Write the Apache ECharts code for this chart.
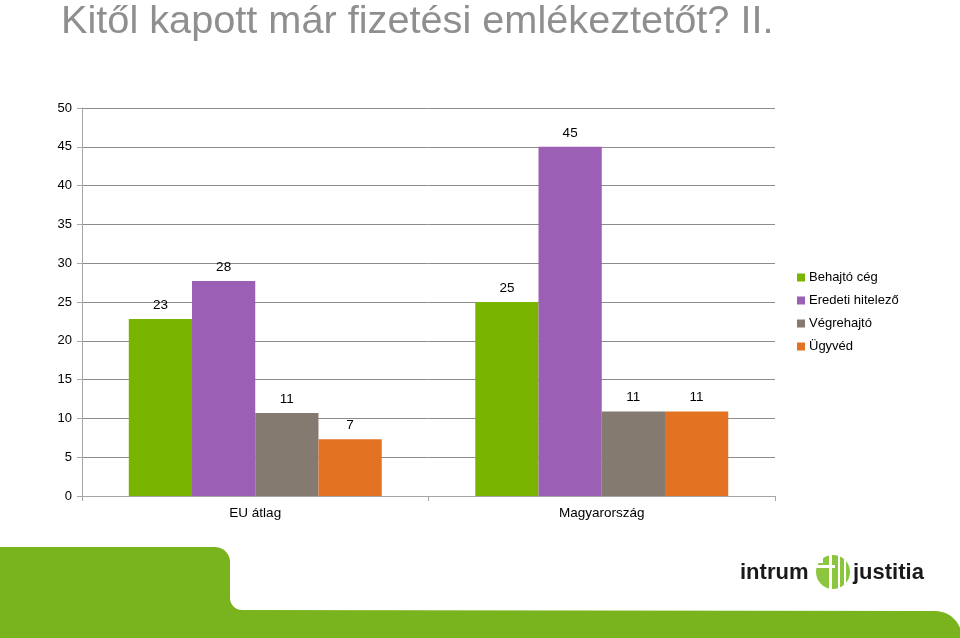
<!DOCTYPE html>
<html><head><meta charset="utf-8">
<script src="https://cdn.jsdelivr.net/npm/echarts@6/dist/echarts.min.js"></script>
<style>html,body{margin:0;padding:0;background:#fff}#c{width:960px;height:638px}</style>
</head><body><div id="c"></div>
<script>
const categories = ['EU átlag', 'Magyarország'];
const seriesNames = ['Behajtó cég', 'Eredeti hitelező', 'Végrehajtó', 'Ügyvéd'];
const behajto = [22.8, 25];
const eredeti = [27.7, 45];
const vegrehajto = [10.7, 10.9];
const ugyved = [7.3, 10.9];
const yTicks = [0, 5, 10, 15, 20, 25, 30, 35, 40, 45, 50];

const colors = ['#78b400', '#9b5fb5', '#857a70', '#e37222'];
const values = [behajto, eredeti, vegrehajto, ugyved];
const FONT = 'Liberation Sans, Arial, sans-serif';
const NARROW = 'Liberation Sans Narrow, Arial Narrow, sans-serif';

// decorative footer outline (rounded corners built from arc points)
function arcPts(cx, cy, r, a0, a1, n) {
  const pts = [];
  for (let i = 0; i <= n; i++) {
    const a = a0 + (a1 - a0) * i / n;
    pts.push([cx + r * Math.cos(a), cy + r * Math.sin(a)]);
  }
  return pts;
}
const footer = [[0, 547]]
  .concat(arcPts(215, 562, 15, -Math.PI / 2, 0, 10))
  .concat(arcPts(242, 598, 12, Math.PI, Math.PI / 2, 10))
  .concat(arcPts(935, 638, 27, -Math.PI / 2, 0, 12))
  .concat([[0, 638]]);

const chart = echarts.init(document.getElementById('c'), null, {renderer: 'canvas'});
const green = '#79b41f';
chart.setOption({
  animation: false,
  backgroundColor: '#ffffff',
  title: {
    text: 'Kitől kapott már fizetési emlékeztetőt? II.',
    left: 56, top: -3,
    textStyle: {fontFamily: FONT, fontSize: 39.7, fontWeight: 'normal', color: '#8f8f8f'}
  },
  grid: {left: 82, right: 185, top: 108, bottom: 142, containLabel: false},
  legend: {
    orient: 'vertical', left: 792, top: 266,
    itemWidth: 8, itemHeight: 8, itemGap: 10, icon: 'rect',
    textStyle: {fontFamily: FONT, fontSize: 13, color: '#000', padding: [0, 0, 0, -1]},
    data: seriesNames
  },
  xAxis: {
    type: 'category', data: categories,
    axisLine: {lineStyle: {color: '#a6a6a6', width: 1}},
    axisTick: {show: true, length: 5, lineStyle: {color: '#a6a6a6'}},
    axisLabel: {fontFamily: FONT, fontSize: 13.5, color: '#000', margin: 10}
  },
  yAxis: {
    type: 'value', min: yTicks[0], max: yTicks[yTicks.length-1], interval: 5,
    axisLine: {show: true, lineStyle: {color: '#a6a6a6', width: 1}},
    axisTick: {show: true, length: 5, lineStyle: {color: '#a6a6a6'}},
    axisLabel: {fontFamily: FONT, fontSize: 13, color: '#000', margin: 10},
    splitLine: {lineStyle: {color: '#8c8c8c', width: 1}}
  },
  series: seriesNames.map((n, i) => ({
    name: n, type: 'bar', data: values[i],
    barGap: '0%', barCategoryGap: '27%',
    itemStyle: {color: colors[i]},
    label: {show: true, position: 'top', distance: 7, fontFamily: FONT, fontSize: 13.5, color: '#000',
      formatter: p => Math.round(p.value)}
  })),
  graphic: [
    {type: 'polygon', z: 100, silent: true, shape: {points: footer}, style: {fill: green}},
    {type: 'text', z: 101, x: 740, y: 562,
     style: {text: 'intrum', font: 'bold 22px ' + NARROW, fill: '#1a1a1a'}},
    {type: 'text', z: 101, x: 853, y: 562,
     style: {text: 'justitia', font: 'bold 22px ' + NARROW, fill: '#1a1a1a'}},
    {type: 'circle', z: 101, shape: {cx: 833, cy: 572, r: 17}, style: {fill: '#8cc63f'}},
    {type: 'rect', z: 102, shape: {x: 815, y: 565, width: 20, height: 3}, style: {fill: '#fff'}},
    {type: 'rect', z: 102, shape: {x: 829, y: 553, width: 3, height: 40}, style: {fill: '#fff'}},
    {type: 'rect', z: 102, shape: {x: 838, y: 553, width: 2, height: 40}, style: {fill: '#fff'}},
    {type: 'rect', z: 102, shape: {x: 844, y: 553, width: 2, height: 40}, style: {fill: '#fff'}},
    {type: 'rect', z: 102, shape: {x: 815, y: 553, width: 8, height: 10}, style: {fill: '#fff'}}
  ]
});
</script></body></html>
